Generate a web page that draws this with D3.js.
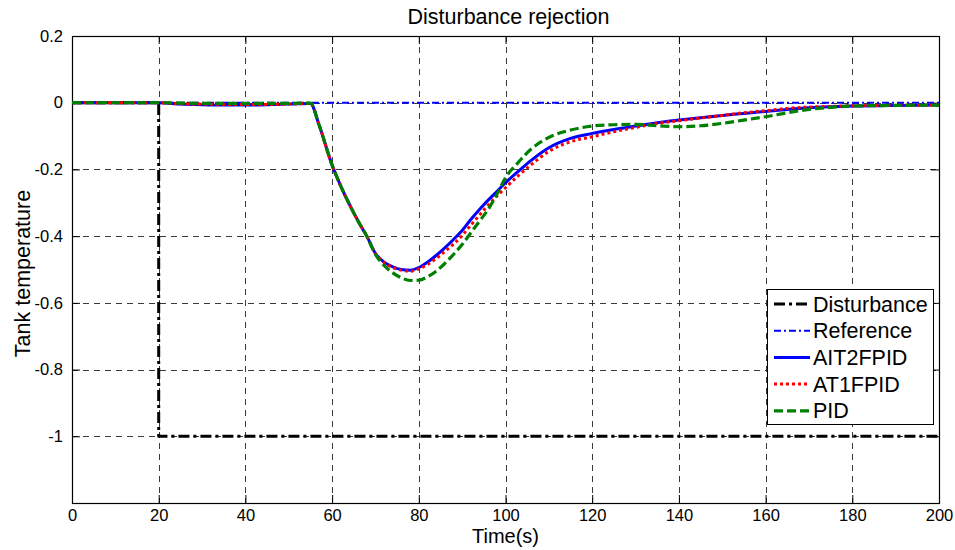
<!DOCTYPE html>
<html>
<head>
<meta charset="utf-8">
<script src="https://cdn.jsdelivr.net/npm/d3@7"></script>
<style>
  html, body { margin: 0; padding: 0; background: #fff; }
  svg { display: block; font-family: "Liberation Sans", Arial, Helvetica, sans-serif; }
</style>
</head>
<body>
<svg id="chart" width="955" height="550"></svg>
<script>
// ---------------- data ----------------
const title = "Disturbance rejection";
const xLabel = "Time(s)";
const yLabel = "Tank temperature";

const xTicks = [0, 20, 40, 60, 80, 100, 120, 140, 160, 180, 200];
const yTicks = [0.2, 0, -0.2, -0.4, -0.6, -0.8, -1];

const seriesNames = ["Disturbance", "Reference", "AIT2FPID", "AT1FPID", "PID"];

const disturbanceTime = [0, 20, 20, 200];
const disturbanceValue = [0, 0, -1, -1];

const referenceTime = [0, 200];
const referenceValue = [0, 0];

const time = [0, 20, 25, 30, 35, 40, 45, 50, 55, 57, 60, 62, 64, 66, 68, 70, 72, 74, 76, 78,
  80, 82, 84, 86, 88, 90, 92, 94, 96, 98, 100, 103, 106, 110, 115, 120, 125, 130, 135, 140,
  145, 150, 155, 160, 165, 170, 175, 180, 190, 200];

const ait2fpid = [0, 0, -0.004, -0.006, -0.007, -0.007, -0.006, -0.004, -0.002, -0.067, -0.187, -0.25, -0.305, -0.355, -0.40, -0.452, -0.478, -0.492, -0.5, -0.502,
  -0.494, -0.478, -0.458, -0.435, -0.41, -0.383, -0.35, -0.32, -0.292, -0.266, -0.24, -0.205, -0.172, -0.135, -0.107, -0.092, -0.08, -0.07, -0.06, -0.052,
  -0.045, -0.038, -0.032, -0.026, -0.02, -0.015, -0.012, -0.01, -0.008, -0.007];

const at1fpid = [0, 0, -0.003, -0.004, -0.005, -0.005, -0.005, -0.004, -0.002, -0.067, -0.187, -0.25, -0.305, -0.355, -0.40, -0.452, -0.479, -0.494, -0.502, -0.505,
  -0.498, -0.485, -0.467, -0.446, -0.424, -0.398, -0.367, -0.337, -0.307, -0.28, -0.255, -0.218, -0.185, -0.146, -0.117, -0.102, -0.087, -0.074, -0.062, -0.054,
  -0.046, -0.038, -0.03, -0.024, -0.017, -0.013, -0.011, -0.009, -0.008, -0.007];

const pid = [0, 0, -0.001, -0.002, -0.002, -0.002, -0.002, -0.002, -0.001, -0.067, -0.187, -0.25, -0.305, -0.355, -0.40, -0.455, -0.488, -0.51, -0.525, -0.533,
  -0.532, -0.522, -0.505, -0.482, -0.455, -0.425, -0.39, -0.355, -0.32, -0.275, -0.225, -0.178, -0.138, -0.104, -0.082, -0.07, -0.066, -0.065, -0.069, -0.072,
  -0.069, -0.062, -0.052, -0.042, -0.03, -0.02, -0.014, -0.01, -0.008, -0.007];

// ---------------- layout ----------------
const svg = d3.select("#chart");
const pL = 72, pR = 939, pT = 36, pB = 503;

const x = d3.scaleLinear().domain([0, 200]).range([pL, pR]);
const y = d3.scaleLinear().domain([-1.2, 0.2]).range([pB, pT]);

const tickLen = 8;
const fmt = d => (d === 0 ? "0" : String(+d.toFixed(1)));

// grid
const grid = svg.append("g").attr("stroke", "#3a3a3a").attr("stroke-width", 1)
  .attr("stroke-dasharray", "6,5").attr("fill", "none");
xTicks.filter(d => d > 0 && d < 200).forEach(d => {
  grid.append("line").attr("x1", Math.round(x(d)) + 0.5).attr("x2", Math.round(x(d)) + 0.5)
    .attr("y1", pT).attr("y2", pB);
});
yTicks.filter(d => d < 0.2 && d > -1.2).forEach(d => {
  grid.append("line").attr("y1", Math.round(y(d)) + 0.5).attr("y2", Math.round(y(d)) + 0.5)
    .attr("x1", pL).attr("x2", pR);
});

// axes (bottom/left with labels, top/right ticks only)
const xAxis = d3.axisBottom(x).tickValues(xTicks).tickSizeInner(-tickLen).tickSizeOuter(0).tickPadding(6);
const yAxis = d3.axisLeft(y).tickValues(yTicks).tickSizeInner(-tickLen).tickSizeOuter(0).tickPadding(9).tickFormat(fmt);
const xAxisTop = d3.axisTop(x).tickValues(xTicks).tickSizeInner(-tickLen).tickSizeOuter(0).tickFormat("");
const yAxisRight = d3.axisRight(y).tickValues(yTicks).tickSizeInner(-tickLen).tickSizeOuter(0).tickFormat("");

function styleAxis(g) {
  g.select(".domain").remove();
  g.selectAll(".tick line").attr("stroke", "#000").attr("stroke-width", 1);
  g.selectAll(".tick text").attr("fill", "#000").attr("font-size", 16.5)
    .attr("font-family", "'Liberation Sans', Arial, sans-serif");
}
svg.append("g").attr("transform", `translate(0,${pB})`).call(xAxis).call(styleAxis);
svg.append("g").attr("transform", `translate(${pL},0)`).call(yAxis).call(styleAxis);
svg.append("g").attr("transform", `translate(0,${pT})`).call(xAxisTop).call(styleAxis);
svg.append("g").attr("transform", `translate(${pR},0)`).call(yAxisRight).call(styleAxis);

// box
svg.append("rect").attr("x", pL + 0.5).attr("y", pT + 0.5)
  .attr("width", pR - pL).attr("height", pB - pT)
  .attr("fill", "none").attr("stroke", "#000").attr("stroke-width", 1.2);

// ---------------- lines ----------------
const plot = svg.append("g");
const styles = {
  "Disturbance": { color: "#000000", width: 3, dash: "11,4,3,4" },
  "Reference":   { color: "#0000ff", width: 2, dash: "7,3,2,3" },
  "AIT2FPID":    { color: "#0000ff", width: 3, dash: null },
  "AT1FPID":     { color: "#ff0000", width: 3, dash: "3,3" },
  "PID":         { color: "#008000", width: 3.2, dash: "9,4" }
};

function drawSeries(name, ts, vs, curve) {
  const pts = ts.map((t, i) => [t, vs[i]]);
  const line = d3.line().x(d => x(d[0])).y(d => y(d[1])).curve(curve);
  const s = styles[name];
  plot.append("path").datum(pts).attr("d", line)
    .attr("fill", "none").attr("stroke", s.color).attr("stroke-width", s.width)
    .attr("stroke-dasharray", s.dash).attr("stroke-linejoin", "round");
}
drawSeries("Disturbance", disturbanceTime, disturbanceValue, d3.curveLinear);
drawSeries("Reference", referenceTime, referenceValue, d3.curveLinear);
drawSeries("AIT2FPID", time, ait2fpid, d3.curveMonotoneX);
drawSeries("AT1FPID", time, at1fpid, d3.curveMonotoneX);
drawSeries("PID", time, pid, d3.curveMonotoneX);

// ---------------- legend ----------------
const lg = svg.append("g");
const lx = 767, ly = 289, lw = 166, lh = 135, row = 26.7;
lg.append("rect").attr("x", lx + 0.5).attr("y", ly + 0.5).attr("width", lw).attr("height", lh)
  .attr("fill", "#fff").attr("stroke", "#000").attr("stroke-width", 1);
seriesNames.forEach((n, i) => {
  const cy = ly + 15 + i * row;
  const s = styles[n];
  lg.append("line").attr("x1", lx + 7).attr("x2", lx + 43).attr("y1", cy).attr("y2", cy)
    .attr("stroke", s.color).attr("stroke-width", s.width).attr("stroke-dasharray", s.dash);
  lg.append("text").attr("x", lx + 46).attr("y", cy + 7.5).attr("font-size", 21.5)
    .attr("fill", "#000").text(n);
});

// ---------------- titles ----------------
svg.append("text").attr("x", (pL + pR) / 2 + 3).attr("y", 24).attr("text-anchor", "middle")
  .attr("font-size", 21.5).attr("fill", "#000").text(title);
svg.append("text").attr("x", (pL + pR) / 2).attr("y", 543).attr("text-anchor", "middle")
  .attr("font-size", 20).attr("fill", "#000").text(xLabel);
svg.append("text").attr("transform", `translate(30,${(pT + pB) / 2 + 4}) rotate(-90)`)
  .attr("text-anchor", "middle").attr("font-size", 21.5).attr("fill", "#000").text(yLabel);
</script>
</body>
</html>
